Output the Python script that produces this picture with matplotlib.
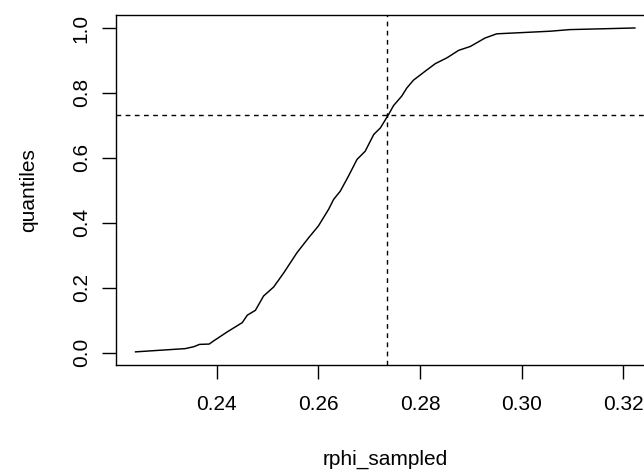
import numpy as np
import matplotlib
matplotlib.use("Agg")
import matplotlib.pyplot as plt

rphi = [0.2240, 0.2338, 0.2355, 0.2366, 0.2385, 0.2394, 0.2420, 0.2450, 0.2460,
        0.2476, 0.2492, 0.2512, 0.2532, 0.2558, 0.2581, 0.2600, 0.2620, 0.2630,
        0.2643, 0.2659, 0.2676, 0.2692, 0.2709, 0.2722, 0.2738, 0.2748, 0.2764,
        0.2774, 0.2787, 0.2807, 0.2830, 0.2853, 0.2876, 0.2899, 0.2928, 0.2951,
        0.3004, 0.3056, 0.3095, 0.3223]
quant = [0.002, 0.012, 0.018, 0.025, 0.026, 0.036, 0.063, 0.092, 0.115,
         0.130, 0.174, 0.202, 0.246, 0.308, 0.354, 0.390, 0.441, 0.472,
         0.497, 0.543, 0.595, 0.620, 0.672, 0.692, 0.733, 0.761, 0.790,
         0.815, 0.839, 0.863, 0.890, 0.908, 0.931, 0.943, 0.969, 0.982,
         0.986, 0.990, 0.995, 1.000]
x_mark = 0.2736
q_mark = 0.731

xticks = [0.24, 0.26, 0.28, 0.30, 0.32]
yticks = [0.0, 0.2, 0.4, 0.6, 0.8, 1.0]

plt.rcParams["font.family"] = ["Liberation Sans", "DejaVu Sans"]
plt.rcParams["font.size"] = 15

fig = plt.figure(figsize=(6.44, 4.73), dpi=100)
# right edge sits just past the image, as in the cropped original
ax = fig.add_axes([0.1797, 0.2273, 1.0166 - 0.1797, 0.9683 - 0.2273])

ax.plot(rphi, quant, color="black", lw=1.05)
ax.axvline(x_mark, color="black", lw=1.0, linestyle=(0, (3.4, 3.2)))
ax.axhline(q_mark, color="black", lw=1.0, linestyle=(0, (3.4, 3.2)))

ax.set_xlim(0.2201, 0.3262)
ax.set_ylim(-0.04, 1.04)
ax.set_xticks(xticks)
ax.set_xticklabels([f"{v:.2f}" for v in xticks])
ax.set_yticks(yticks)
ax.set_yticklabels([f"{v:.1f}" for v in yticks], rotation=90, va="center")
ax.tick_params(axis="x", length=10, width=1.0, pad=11, direction="out")
ax.tick_params(axis="y", length=10, width=1.0, pad=8, direction="out")
for s in ax.spines.values():
    s.set_linewidth(1.0)

ax.set_xlabel("rphi_sampled", labelpad=26)
ax.set_ylabel("quantiles", labelpad=24)

fig.savefig("out.png", dpi=100)
